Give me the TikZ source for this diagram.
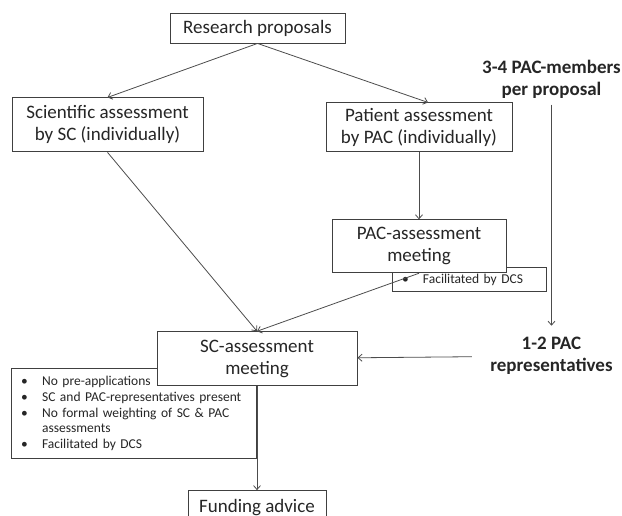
\documentclass[tikz,border=0pt]{standalone}
\usepackage{fontspec}
\setmainfont{Carlito}
\usetikzlibrary{arrows.meta, positioning, backgrounds}

\newcommand{\itm}{\makebox[21pt][l]{\textbullet}}

\begin{document}
\begin{tikzpicture}[
  box/.style={rectangle, draw=black!75, line width=0.9pt, fill=white, align=center,
              inner sep=0pt, text=black!85, font=\fontsize{19}{22}\selectfont},
  note/.style={rectangle, draw=black!75, line width=0.9pt, fill=white, align=left,
               inner xsep=10pt, inner ysep=0pt, text=black!85,
               font=\fontsize{13.5}{15.75}\selectfont},
  lbl/.style={align=center, text=black!85, font=\bfseries\fontsize{19}{22}\selectfont},
  arrow/.style={->, >={Straight Barb[length=4pt,width=7pt]}, draw=black!70,
                line width=0.8pt}
]
\useasboundingbox (0,0) rectangle (622pt,516pt);

\node[box, minimum width=175pt, minimum height=30pt] (props) at (257.5pt,488pt)
    {Research proposals};
\node[box, minimum width=191pt, minimum height=54pt, below=54pt of props, xshift=-150pt]
    (sci) {Scientific assessment\\by SC (individually)};
\node[box, minimum width=186pt, minimum height=49pt, below=59pt of props, xshift=161.5pt]
    (pat) {Patient assessment\\by PAC (individually)};
\node[box, minimum width=174pt, minimum height=53pt, below=67pt of pat]
    (pacmeet) {PAC-assessment\\meeting};
\node[box, minimum width=200pt, minimum height=54pt, below=58pt of pacmeet, xshift=-162pt]
    (scmeet) {SC-assessment\\meeting};
\node[box, minimum width=138pt, minimum height=33pt, below=104pt of scmeet]
    (fund) {Funding advice};

% notes half hidden behind the meeting boxes
\begin{scope}[on background layer]
\node[note, text width=134pt, minimum height=24pt, below=-6pt of pacmeet, xshift=50pt]
    (facil) {\itm Facilitated by DCS};
\node[note, text width=225pt, minimum height=90pt, below left=-18pt and -100pt of scmeet]
    (bullets) {\itm No pre-applications\\
               \itm\mbox{SC and PAC-representatives present}\\
               \itm\mbox{No formal weighting of SC \& PAC}\\
               \hspace*{21pt}assessments\\
               \itm Facilitated by DCS};
\end{scope}

\node[lbl] (members) at (551.5pt,437pt) {3-4 PAC-members\\per proposal};
\node[lbl] (reps) at (551.5pt,160pt) {1-2 PAC\\representatives};

\draw[arrow] (props.south) -- (sci.north);
\draw[arrow] (props.south) -- ([xshift=9pt]pat.north);
\draw[arrow] (sci.south) -- (scmeet.north);
\draw[arrow] (pat) -- (pacmeet);
\draw[arrow] (pacmeet.south) -- (scmeet.north);
\draw[arrow, shorten <=3pt, shorten >=8pt] (members) -- (reps);
\draw[arrow, shorten <=15pt] (reps) -- (scmeet);
\draw[arrow] (scmeet) -- (fund);
\end{tikzpicture}
\end{document}
